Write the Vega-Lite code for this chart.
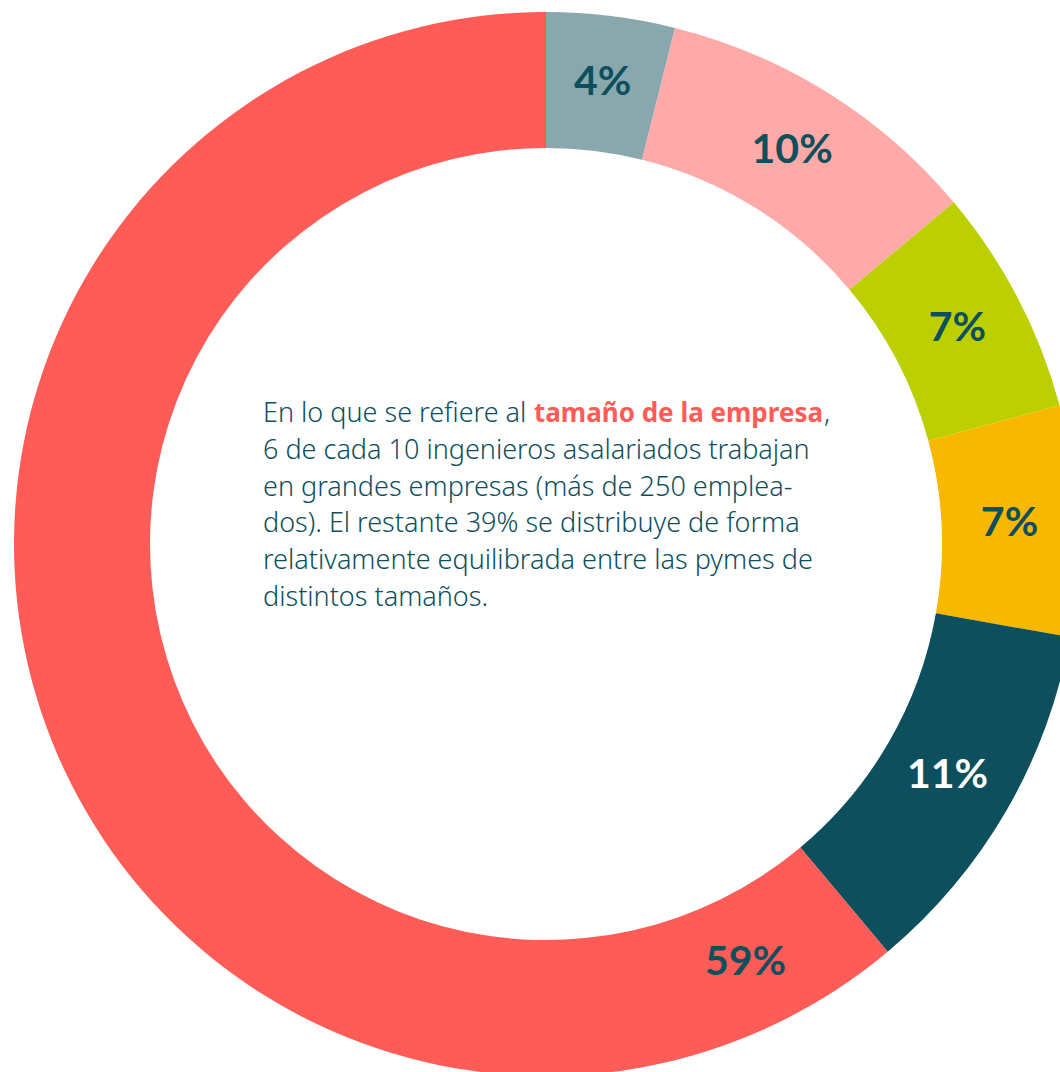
{
  "$schema": "https://vega.github.io/schema/vega-lite/v6.json",
  "width": 1060,
  "height": 1072,
  "autosize": {"type": "fit", "contains": "padding"},
  "padding": {"left": 32, "top": 16, "right": 0, "bottom": 0},
  "background": "white",
  "config": {"view": {"stroke": null}},
  "datasets": {
    "segmentos": [
      {"orden": 1, "tamano": "Segmento 1", "valor": 3.9, "etiqueta": "4%"},
      {"orden": 2, "tamano": "Segmento 2", "valor": 10.0, "etiqueta": "10%"},
      {"orden": 3, "tamano": "Segmento 3", "valor": 6.9, "etiqueta": "7%"},
      {"orden": 4, "tamano": "Segmento 4", "valor": 7.0, "etiqueta": "7%"},
      {"orden": 5, "tamano": "Segmento 5", "valor": 11.1, "etiqueta": "11%"},
      {"orden": 6, "tamano": "Más de 250 empleados", "valor": 61.1, "etiqueta": "59%"}
    ]
  },
  "layer": [
    {
      "data": {"name": "segmentos"},
      "mark": {"type": "arc", "innerRadius": 396, "outerRadius": 532},
      "encoding": {
        "theta": {"field": "valor", "type": "quantitative", "stack": true},
        "order": {"field": "orden", "type": "quantitative"},
        "color": {
          "field": "tamano",
          "type": "nominal",
          "scale": {
            "domain": ["Segmento 1", "Segmento 2", "Segmento 3", "Segmento 4", "Segmento 5", "Más de 250 empleados"],
            "range": ["#88a8ae", "#ffaaa8", "#bccf00", "#f9b800", "#0d4f5c", "#ff5b57"]
          },
          "legend": null
        }
      }
    },
    {
      "data": {"name": "segmentos"},
      "transform": [{"filter": "datum.orden < 6"}],
      "mark": {"type": "text", "radius": 464, "font": "Lato", "fontWeight": "bold", "fontSize": 41, "align": "center", "baseline": "middle"},
      "encoding": {
        "theta": {"field": "valor", "type": "quantitative", "stack": true},
        "order": {"field": "orden", "type": "quantitative"},
        "text": {"field": "etiqueta", "type": "nominal"},
        "color": {"condition": {"test": "datum.orden === 5", "value": "#ffffff"}, "value": "#0d4f5c"}
      }
    },
    {
      "data": {"name": "segmentos"},
      "transform": [{"filter": "datum.orden === 6"}],
      "mark": {"type": "text", "radius": 464, "theta": 2.697, "font": "Lato", "fontWeight": "bold", "fontSize": 41, "align": "center", "baseline": "middle", "color": "#0d4f5c"},
      "encoding": {
        "text": {"field": "etiqueta", "type": "nominal"}
      }
    },
    {
      "data": {"values": [{}]},
      "mark": {
        "type": "text",
        "x": 229,
        "y": 406,
        "align": "left",
        "baseline": "alphabetic",
        "font": "Noto Sans",
        "fontSize": 27,
        "fontWeight": 300,
        "lineHeight": 36.8,
        "color": "#0d4f5c",
        "text": [
          "En lo que se refiere al",
          "6 de cada 10 ingenieros asalariados trabajan",
          "en grandes empresas (más de 250 emplea-",
          "dos). El restante 39% se distribuye de forma",
          "relativamente equilibrada entre las pymes de",
          "distintos tamaños."
        ]
      },
      "encoding": {}
    },
    {
      "data": {"values": [{}]},
      "mark": {
        "type": "text",
        "x": 500,
        "y": 406,
        "align": "left",
        "baseline": "alphabetic",
        "font": "Noto Sans",
        "fontSize": 26,
        "fontWeight": "bold",
        "color": "#ff5b57",
        "text": "tamaño de la empresa"
      },
      "encoding": {}
    },
    {
      "data": {"values": [{}]},
      "mark": {
        "type": "text",
        "x": 790,
        "y": 406,
        "align": "left",
        "baseline": "alphabetic",
        "font": "Noto Sans",
        "fontSize": 27,
        "fontWeight": 300,
        "color": "#0d4f5c",
        "text": ","
      },
      "encoding": {}
    }
  ]
}
